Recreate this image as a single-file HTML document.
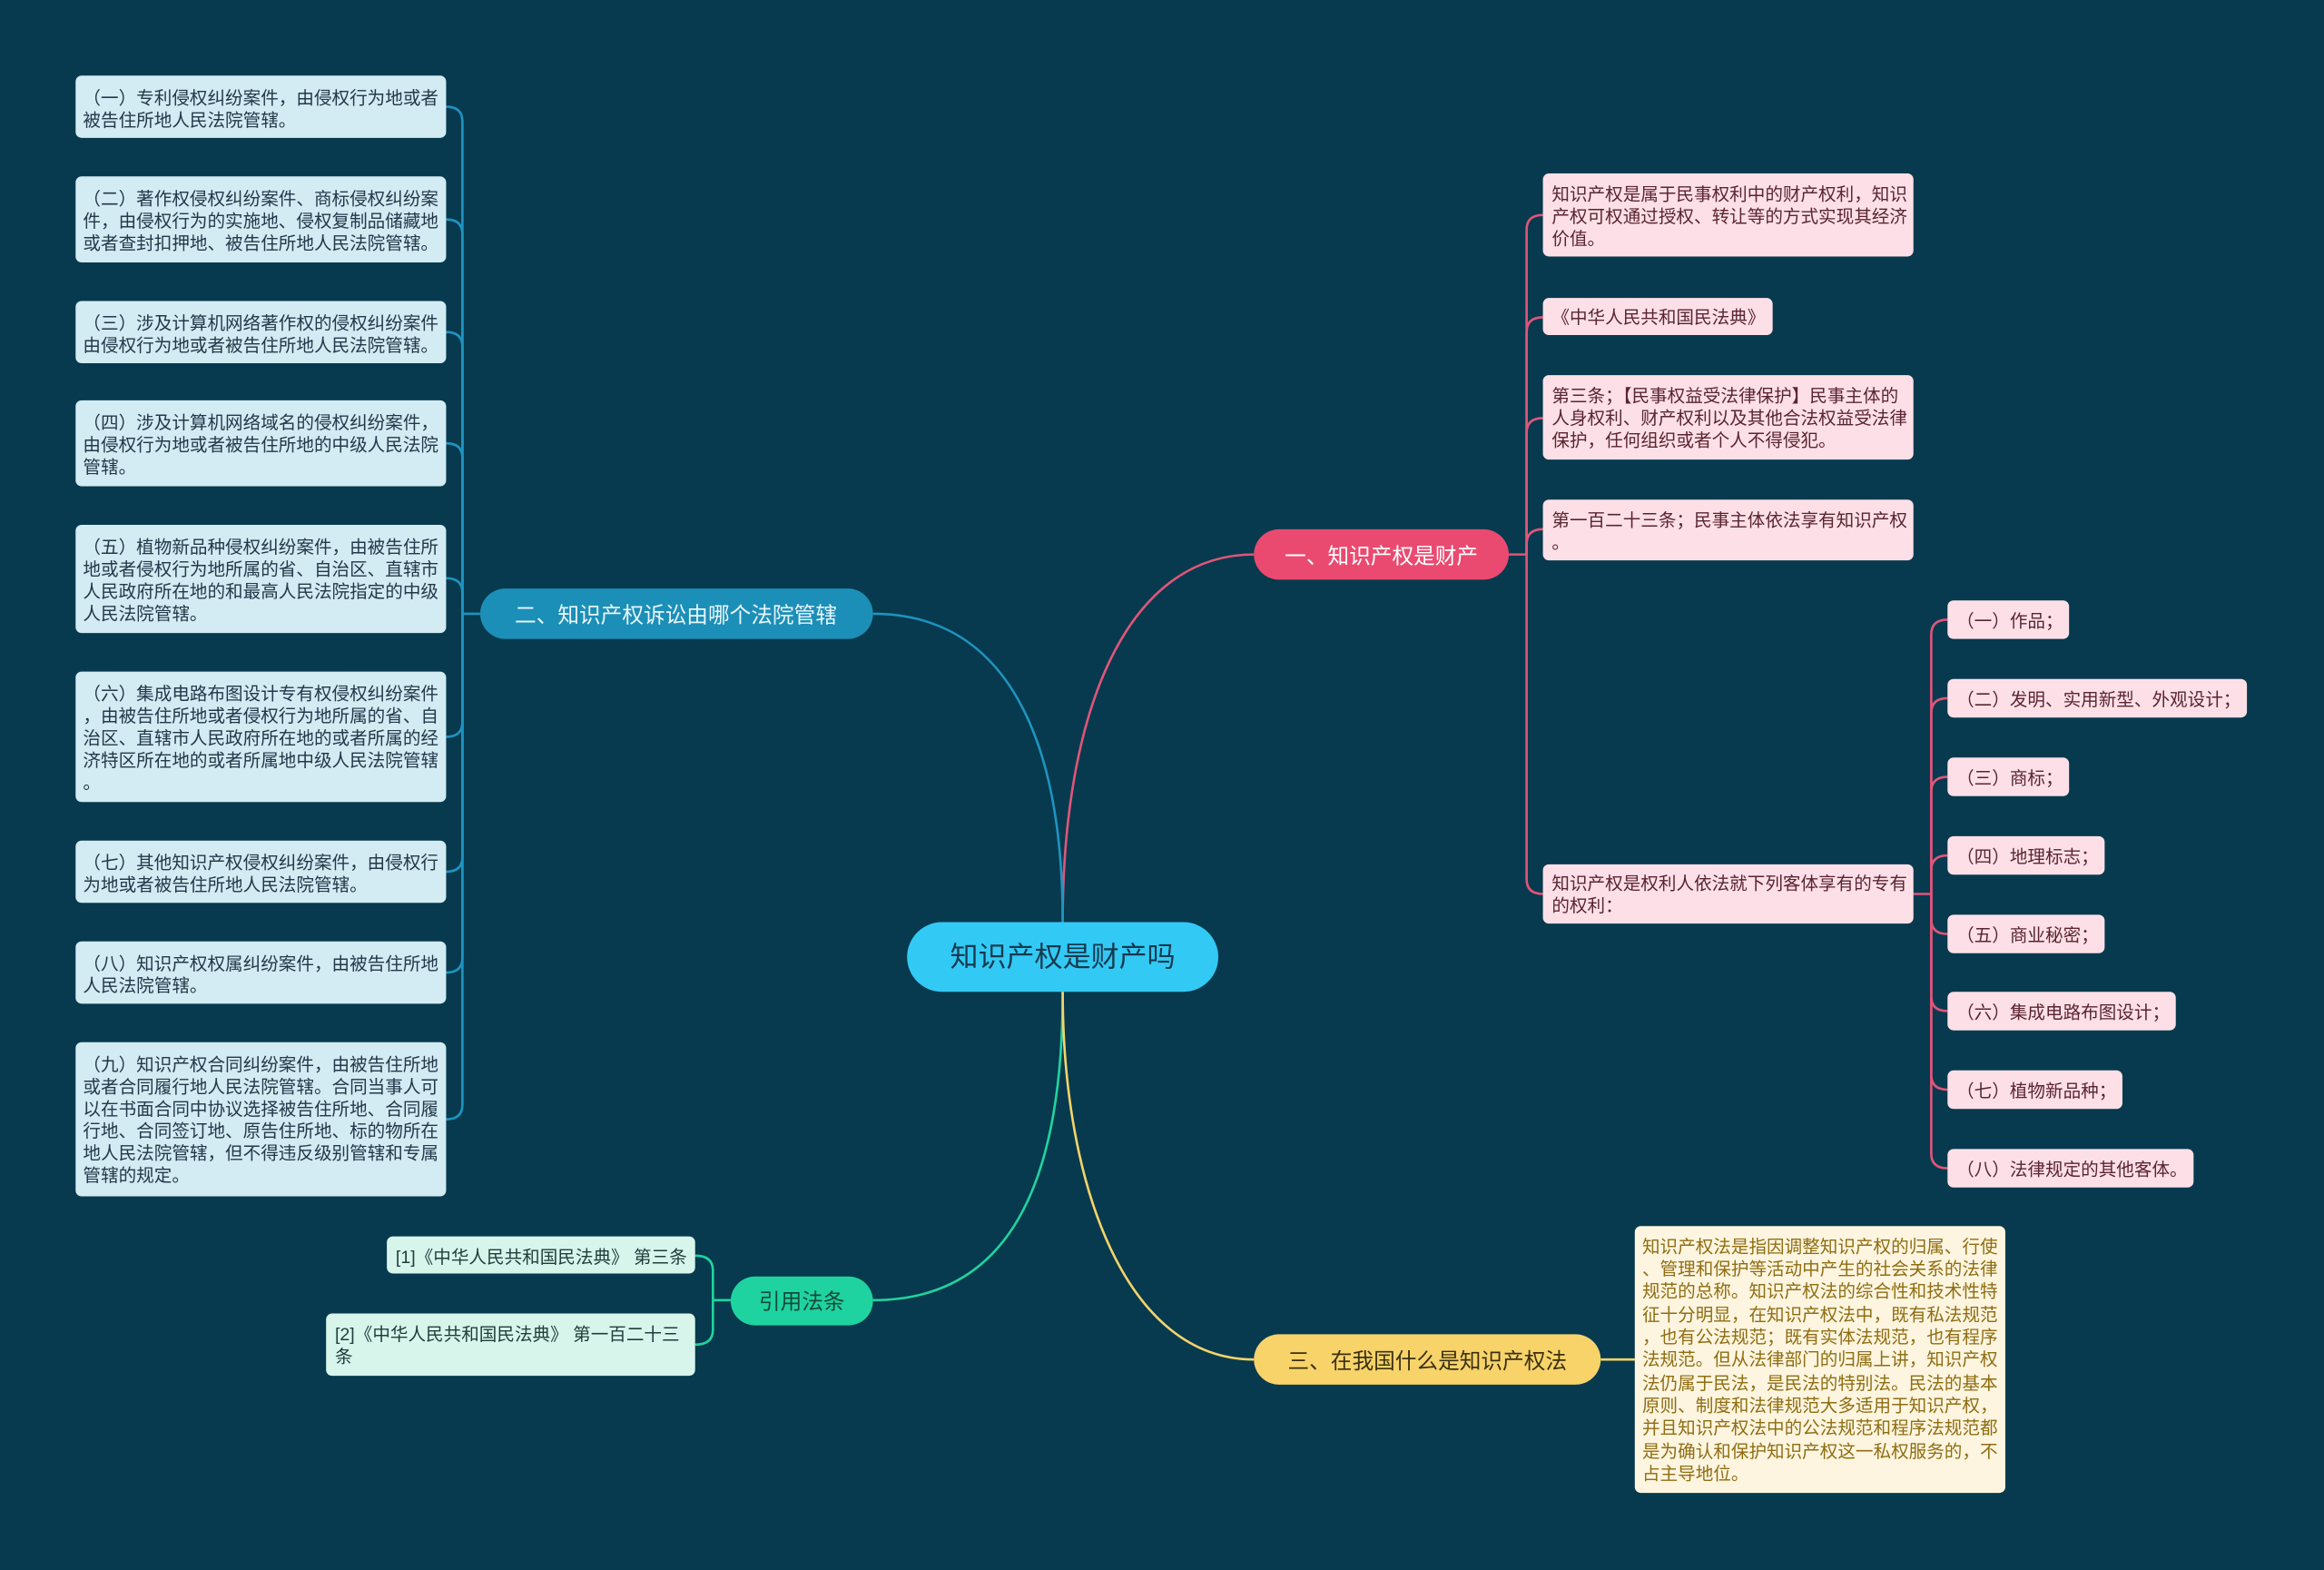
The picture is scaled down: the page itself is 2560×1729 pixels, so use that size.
<!DOCTYPE html>
<html><head><meta charset="utf-8"><style>
html,body{margin:0;padding:0;background:#073a4e;}
svg{display:block}
text{font-family:"Liberation Sans","Noto Sans CJK SC",sans-serif;}
.l{font-size:12px;fill:#23384a}
.p{font-size:12px;fill:#5a2432}
.y{font-size:12px;fill:#8f6d12}
.g{font-size:12px;fill:#1e3e3a}
</style></head><body>
<svg width="2560" height="1729" viewBox="0 0 1568 1059" xmlns="http://www.w3.org/2000/svg">
<rect width="1568" height="1059" fill="#073a4e"/>
<g fill="none" stroke-width="1.6">
<!-- main connectors -->
<path d="M717 622 C717 480 760 374 846 374" stroke="#e0557a"/>
<path d="M717 622 C717 500 680 414 589 414" stroke="#1f93c0"/>
<path d="M717 669 C717 800 680 877 589 877" stroke="#20d4a0"/>
<path d="M717 669 C717 800 760 917 846 917" stroke="#f5d46a"/>
<!-- red leaves -->
<g stroke="#e0557a">
<path d="M1018 374 L1030 374"/>
<path d="M1030 374 L1030 155 Q1030 145 1041 145"/>
<path d="M1030 374 L1030 224 Q1030 214 1041 214"/>
<path d="M1030 374 L1030 292 Q1030 282 1041 282"/>
<path d="M1030 374 L1030 367 Q1030 357 1041 357"/>
<path d="M1030 374 L1030 593 Q1030 603 1041 603"/>
<path d="M1291 603 L1303 603"/>
<path d="M1303 603 L1303 428 Q1303 418 1314 418"/>
<path d="M1303 603 L1303 481 Q1303 471 1314 471"/>
<path d="M1303 603 L1303 534 Q1303 524 1314 524"/>
<path d="M1303 603 L1303 587 Q1303 577 1314 577"/>
<path d="M1303 603 L1303 620 Q1303 630 1314 630"/>
<path d="M1303 603 L1303 672 Q1303 682 1314 682"/>
<path d="M1303 603 L1303 725 Q1303 735 1314 735"/>
<path d="M1303 603 L1303 778 Q1303 788 1314 788"/>
</g>
<!-- blue leaves -->
<g stroke="#1f93c0">
<path d="M324 414 L312 414"/>
<path d="M312 414 L312 82 Q312 72 301 72"/>
<path d="M312 414 L312 158 Q312 148 301 148"/>
<path d="M312 414 L312 234 Q312 224 301 224"/>
<path d="M312 414 L312 309 Q312 299 301 299"/>
<path d="M312 414 L312 400 Q312 390 301 390"/>
<path d="M312 414 L312 487 Q312 497 301 497"/>
<path d="M312 414 L312 578 Q312 588 301 588"/>
<path d="M312 414 L312 646 Q312 656 301 656"/>
<path d="M312 414 L312 745 Q312 755 301 755"/>
</g>
<!-- green -->
<g stroke="#20d4a0">
<path d="M493 877 L481 877"/>
<path d="M481 877 L481 857 Q481 847 469 847"/>
<path d="M481 877 L481 897 Q481 907 469 907"/>
</g>
<path d="M1080 917 L1103 917" stroke="#f5d46a"/>
</g>

<!-- center -->
<rect x="612" y="622" width="210" height="47" rx="23.5" fill="#33c9f5"/>
<text x="717" y="652" font-size="19" fill="#143a4e" text-anchor="middle">知识产权是财产吗</text>

<!-- branches -->
<rect x="846" y="357" width="172" height="34" rx="17" fill="#ea4a70"/>
<text x="932" y="380" font-size="14.5" fill="#fff" text-anchor="middle">一、知识产权是财产</text>
<rect x="324" y="397" width="265" height="34" rx="17" fill="#1b8fb8"/>
<text x="456" y="420" font-size="14.5" fill="#eaf6fb" text-anchor="middle">二、知识产权诉讼由哪个法院管辖</text>
<rect x="846" y="900" width="234" height="34" rx="17" fill="#f7d36a"/>
<text x="963" y="923" font-size="14.5" fill="#3a3010" text-anchor="middle">三、在我国什么是知识产权法</text>
<rect x="493" y="861" width="96" height="33" rx="16.5" fill="#1fd3a0"/>
<text x="541" y="883" font-size="14.5" fill="#144a3a" text-anchor="middle">引用法条</text>

<!-- pink leaves -->
<g fill="#fde0e7">
<rect x="1041" y="117" width="250" height="56" rx="4"/>
<rect x="1041" y="201" width="155" height="25" rx="4"/>
<rect x="1041" y="253" width="250" height="57" rx="4"/>
<rect x="1041" y="337" width="250" height="41" rx="4"/>
<rect x="1041" y="583" width="250" height="40" rx="4"/>
<rect x="1314" y="405" width="82" height="26" rx="4"/>
<rect x="1314" y="458" width="202" height="26" rx="4"/>
<rect x="1314" y="511" width="82" height="26" rx="4"/>
<rect x="1314" y="564" width="106" height="26" rx="4"/>
<rect x="1314" y="617" width="106" height="26" rx="4"/>
<rect x="1314" y="669" width="154" height="26" rx="4"/>
<rect x="1314" y="722" width="118" height="26" rx="4"/>
<rect x="1314" y="775" width="166" height="26" rx="4"/>
</g>
<g class="p">
<text class="p" x="1047" y="135">知识产权是属于民事权利中的财产权利，知识</text>
<text class="p" x="1047" y="150">产权可权通过授权、转让等的方式实现其经济</text>
<text class="p" x="1047" y="165">价值。</text>
<text class="p" x="1047" y="218">《中华人民共和国民法典》</text>
<text class="p" x="1047" y="271">第三条；【民事权益受法律保护】民事主体的</text>
<text class="p" x="1047" y="286">人身权利、财产权利以及其他合法权益受法律</text>
<text class="p" x="1047" y="301">保护，任何组织或者个人不得侵犯。</text>
<text class="p" x="1047" y="355">第一百二十三条；民事主体依法享有知识产权</text>
<text class="p" x="1047" y="370">。</text>
<text class="p" x="1047" y="600">知识产权是权利人依法就下列客体享有的专有</text>
<text class="p" x="1047" y="615">的权利：</text>
<text class="p" x="1320" y="423">（一）作品；</text>
<text class="p" x="1320" y="476">（二）发明、实用新型、外观设计；</text>
<text class="p" x="1320" y="529">（三）商标；</text>
<text class="p" x="1320" y="582">（四）地理标志；</text>
<text class="p" x="1320" y="635">（五）商业秘密；</text>
<text class="p" x="1320" y="687">（六）集成电路布图设计；</text>
<text class="p" x="1320" y="740">（七）植物新品种；</text>
<text class="p" x="1320" y="793">（八）法律规定的其他客体。</text>
</g>

<!-- blue leaves -->
<g fill="#d3ebf3">
<rect x="51" y="51" width="250" height="42" rx="4"/>
<rect x="51" y="119" width="250" height="58" rx="4"/>
<rect x="51" y="203" width="250" height="42" rx="4"/>
<rect x="51" y="270" width="250" height="58" rx="4"/>
<rect x="51" y="354" width="250" height="73" rx="4"/>
<rect x="51" y="453" width="250" height="88" rx="4"/>
<rect x="51" y="567" width="250" height="42" rx="4"/>
<rect x="51" y="635" width="250" height="42" rx="4"/>
<rect x="51" y="703" width="250" height="104" rx="4"/>
</g>
<g>
<text class="l" x="56" y="70">（一）专利侵权纠纷案件，由侵权行为地或者</text>
<text class="l" x="56" y="85">被告住所地人民法院管辖。</text>
<text class="l" x="56" y="138">（二）著作权侵权纠纷案件、商标侵权纠纷案</text>
<text class="l" x="56" y="153">件，由侵权行为的实施地、侵权复制品储藏地</text>
<text class="l" x="56" y="168">或者查封扣押地、被告住所地人民法院管辖。</text>
<text class="l" x="56" y="222">（三）涉及计算机网络著作权的侵权纠纷案件</text>
<text class="l" x="56" y="237">由侵权行为地或者被告住所地人民法院管辖。</text>
<text class="l" x="56" y="289">（四）涉及计算机网络域名的侵权纠纷案件，</text>
<text class="l" x="56" y="304">由侵权行为地或者被告住所地的中级人民法院</text>
<text class="l" x="56" y="319">管辖。</text>
<text class="l" x="56" y="373">（五）植物新品种侵权纠纷案件，由被告住所</text>
<text class="l" x="56" y="388">地或者侵权行为地所属的省、自治区、直辖市</text>
<text class="l" x="56" y="403">人民政府所在地的和最高人民法院指定的中级</text>
<text class="l" x="56" y="418">人民法院管辖。</text>
<text class="l" x="56" y="472">（六）集成电路布图设计专有权侵权纠纷案件</text>
<text class="l" x="56" y="487">，由被告住所地或者侵权行为地所属的省、自</text>
<text class="l" x="56" y="502">治区、直辖市人民政府所在地的或者所属的经</text>
<text class="l" x="56" y="517">济特区所在地的或者所属地中级人民法院管辖</text>
<text class="l" x="56" y="532">。</text>
<text class="l" x="56" y="586">（七）其他知识产权侵权纠纷案件，由侵权行</text>
<text class="l" x="56" y="601">为地或者被告住所地人民法院管辖。</text>
<text class="l" x="56" y="654">（八）知识产权权属纠纷案件，由被告住所地</text>
<text class="l" x="56" y="669">人民法院管辖。</text>
<text class="l" x="56" y="722">（九）知识产权合同纠纷案件，由被告住所地</text>
<text class="l" x="56" y="737">或者合同履行地人民法院管辖。合同当事人可</text>
<text class="l" x="56" y="752">以在书面合同中协议选择被告住所地、合同履</text>
<text class="l" x="56" y="767">行地、合同签订地、原告住所地、标的物所在</text>
<text class="l" x="56" y="782">地人民法院管辖，但不得违反级别管辖和专属</text>
<text class="l" x="56" y="797">管辖的规定。</text>
</g>

<!-- green leaves -->
<rect x="261" y="834" width="208" height="25" rx="4" fill="#d8f5ec"/>
<rect x="220" y="886" width="249" height="42" rx="4" fill="#d8f5ec"/>
<text class="g" x="267" y="852">[1]《中华人民共和国民法典》 第三条</text>
<text class="g" x="226" y="904">[2]《中华人民共和国民法典》 第一百二十三</text>
<text class="g" x="226" y="919">条</text>

<!-- yellow box -->
<rect x="1103" y="827" width="250" height="180" rx="4" fill="#fdf5df"/>
<g>
<text class="y" x="1108" y="845">知识产权法是指因调整知识产权的归属、行使</text>
<text class="y" x="1108" y="860">、管理和保护等活动中产生的社会关系的法律</text>
<text class="y" x="1108" y="875">规范的总称。知识产权法的综合性和技术性特</text>
<text class="y" x="1108" y="891">征十分明显，在知识产权法中，既有私法规范</text>
<text class="y" x="1108" y="906">，也有公法规范；既有实体法规范，也有程序</text>
<text class="y" x="1108" y="921">法规范。但从法律部门的归属上讲，知识产权</text>
<text class="y" x="1108" y="937">法仍属于民法，是民法的特别法。民法的基本</text>
<text class="y" x="1108" y="952">原则、制度和法律规范大多适用于知识产权，</text>
<text class="y" x="1108" y="967">并且知识产权法中的公法规范和程序法规范都</text>
<text class="y" x="1108" y="983">是为确认和保护知识产权这一私权服务的，不</text>
<text class="y" x="1108" y="998">占主导地位。</text>
</g>
</svg>
</body></html>
